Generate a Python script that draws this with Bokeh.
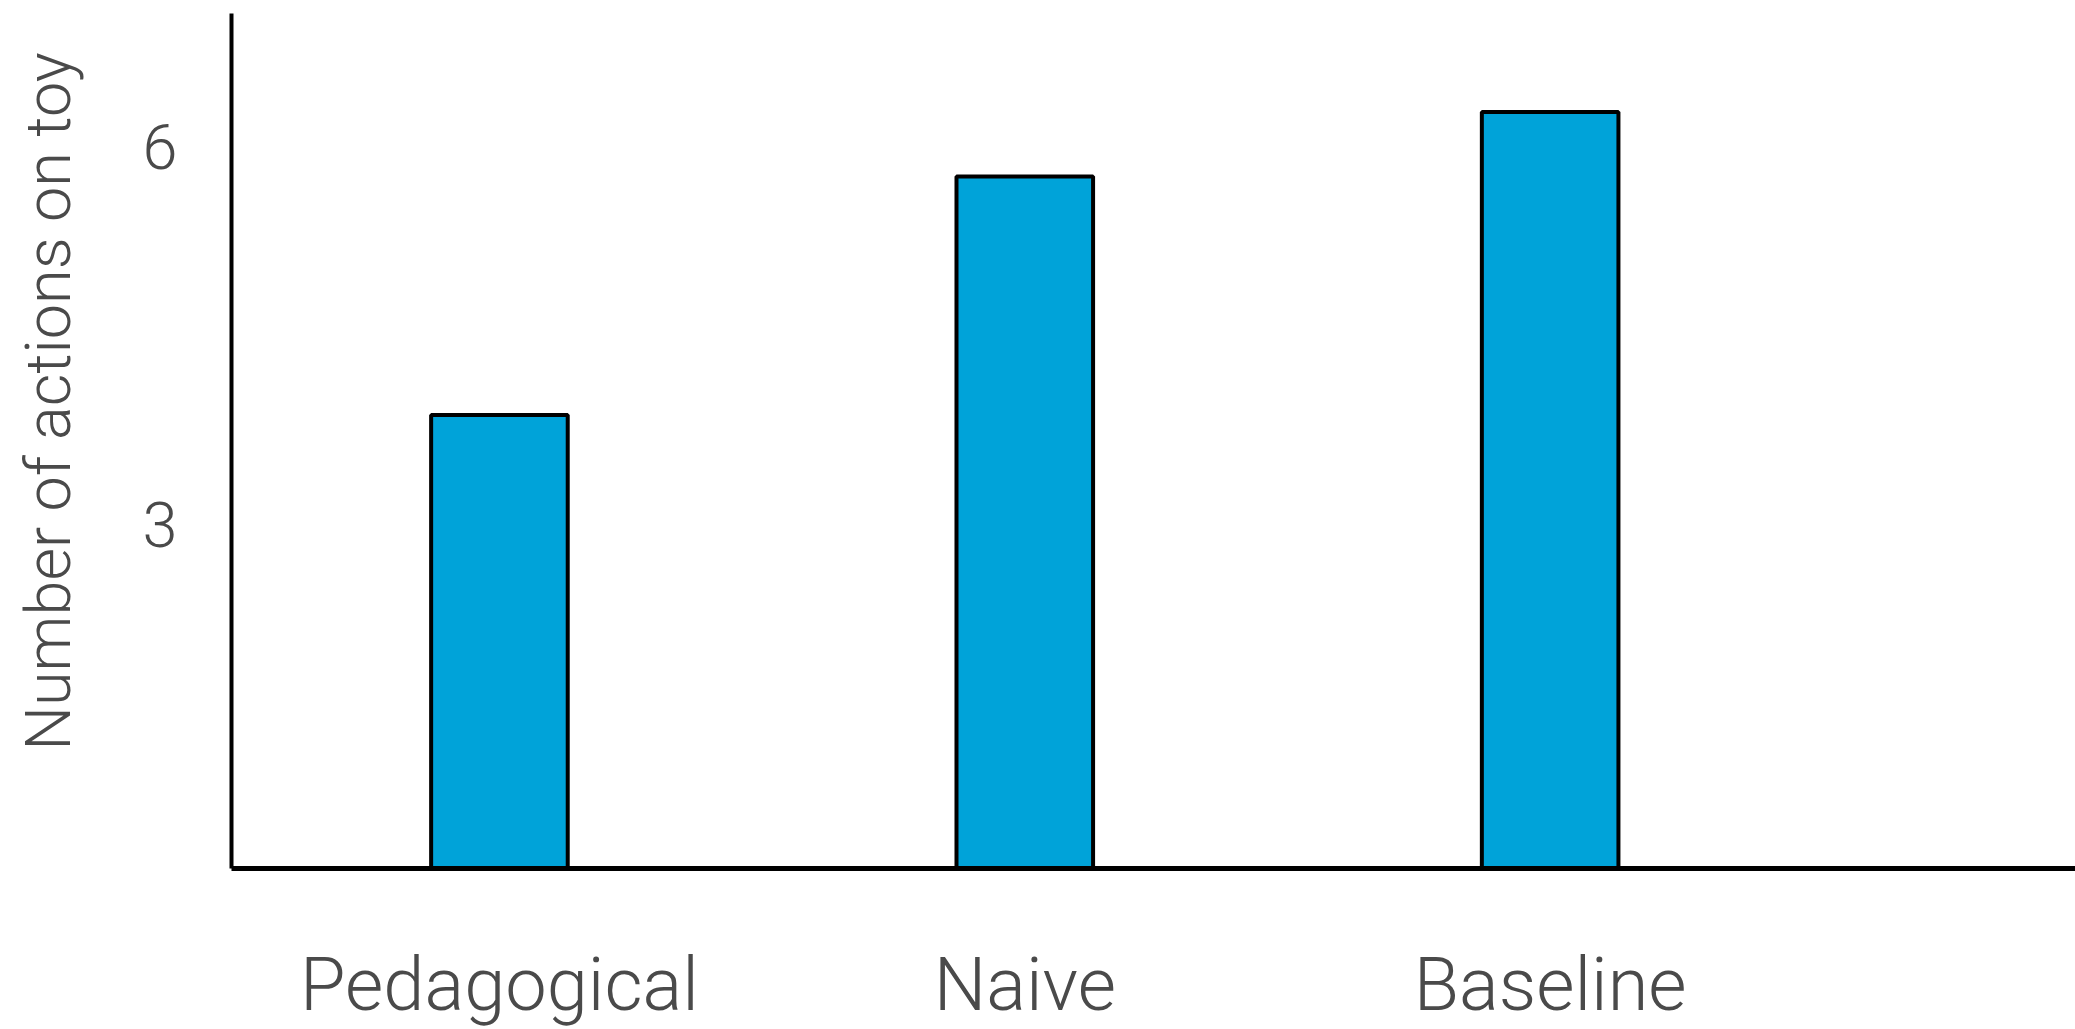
import math
from bokeh.plotting import figure
from bokeh.models import Range1d, FixedTicker, ColumnDataSource
from bokeh.layouts import row, column
from bokeh.core.properties import value
from bokeh.embed import file_html
from bokeh.resources import INLINE

categories = ["Pedagogical", "Naive", "Baseline"]
actions = [3.87, 5.76, 6.27]
y_ticks = [3, 6]
y_title = "Number of actions on toy"

FONT = "Roboto Light"
TEXT = "#4a4a4a"

xs = list(range(len(categories)))
src = ColumnDataSource(dict(x=xs, top=actions, label=categories, base=[0] * len(xs)))

TITLE_W = 120
MAIN_W = 2075 - TITLE_W
MAIN_H = 873
TOTAL_H = 1029

xr = Range1d(-0.51, 3.0)

# main chart
p = figure(width=MAIN_W, height=MAIN_H, output_backend="svg", toolbar_location=None,
           x_range=xr, y_range=Range1d(0.28, 7.05),
           min_border_left=111, min_border_right=0, min_border_top=13, min_border_bottom=5)
p.vbar(x="x", top="top", bottom=0, width=0.26, source=src, fill_color="#00A3D9",
       line_color="black", line_width=4)
p.outline_line_color = None
p.xgrid.visible = False
p.ygrid.visible = False

xa = p.xaxis[0]
xa.ticker = FixedTicker(ticks=[])
xa.axis_line_width = 5
xa.axis_line_color = "black"
xa.major_tick_line_color = None
xa.minor_tick_line_color = None

ya = p.yaxis[0]
ya.ticker = FixedTicker(ticks=y_ticks)
ya.axis_line_width = 4
ya.axis_line_color = "black"
ya.major_tick_line_color = None
ya.minor_tick_line_color = None
ya.major_label_text_font = FONT
ya.major_label_text_font_size = "63px"
ya.major_label_text_color = TEXT
ya.major_label_standoff = 48

# category labels strip (shares the x range with the main chart)
q = figure(width=MAIN_W, height=TOTAL_H - MAIN_H, output_backend="svg", toolbar_location=None,
           x_range=xr, y_range=Range1d(-45, 111), x_axis_type=None, y_axis_type=None,
           min_border_left=111, min_border_right=0, min_border_top=0, min_border_bottom=0)
q.outline_line_color = None
q.xgrid.visible = False
q.ygrid.visible = False
q.text(x="x", y="base", text="label", source=src, text_align="center",
       text_baseline="alphabetic", text_font=value(FONT), text_font_size=value("74px"),
       text_color=TEXT)

# rotated y-axis title
t = figure(width=TITLE_W, height=TOTAL_H, output_backend="svg", toolbar_location=None,
           x_range=Range1d(0, TITLE_W), y_range=Range1d(TOTAL_H, 0),
           x_axis_type=None, y_axis_type=None,
           min_border_left=0, min_border_right=0, min_border_top=0, min_border_bottom=0)
t.outline_line_color = None
t.xgrid.visible = False
t.ygrid.visible = False
t.text(x=[48], y=[401], text=[y_title], angle=math.pi / 2, text_align="center",
       text_baseline="alphabetic", text_font=value(FONT), text_font_size=value("63px"),
       text_color=TEXT)

layout = row(t, column(p, q, spacing=0), spacing=0)
open("out.html", "w").write(file_html(layout, INLINE))
